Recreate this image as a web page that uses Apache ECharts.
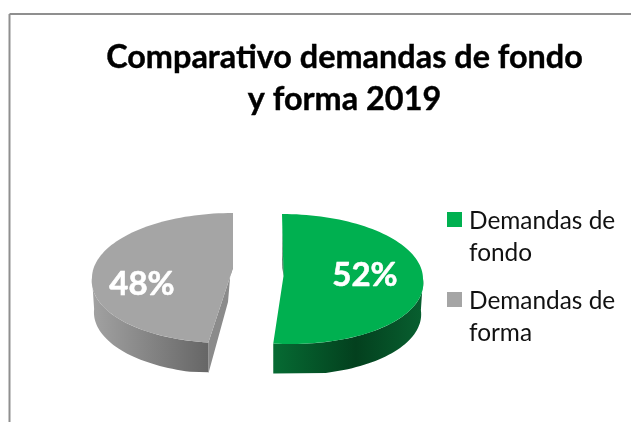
<!DOCTYPE html>
<html><head><meta charset="utf-8">
<style>html,body{margin:0;padding:0;background:#fff}#c{width:631px;height:422px}</style>
<script src="https://cdn.jsdelivr.net/npm/echarts@6/dist/echarts.min.js"></script>
</head><body><div id="c"></div>
<script>
const titleLines = ['Comparativo demandas de fondo', 'y forma 2019'];
const categories = ['Demandas de\nfondo', 'Demandas de\nforma'];
const values = [52, 48];
const colors = ['#00B050', '#A5A5A5'];

const total = values.reduce((a, b) => a + b, 0);
const views = [
  {cx: 282, cy: 279, ax: 283.5, ay: 276, skew: 9, labelX: 365, labelY: 275,
   wall: [[0, '#066b33'], [0.55, '#03401e'], [1, '#086030']], cut: '#02401d', sliver: -1.8},
  {cx: 233, cy: 278, ax: 233, ay: 268, skew: -7, labelX: 142, labelY: 284,
   wall: [[0, '#a2a2a2'], [1, '#666666']], cut: '#8b8b8b', sliver: 0}
];
const RX = 141, RY = 65, DEPTH = 31, BOTTOM_SCALE = 0.985;

function rim(v, deg, scale, dy) {
  const t = deg * Math.PI / 180;
  const ex = Math.sin(t) * RX * scale, ey = -Math.cos(t) * RY;
  return [v.cx + ex + (ey > 0 ? v.skew * ey / RY : 0), v.cy + ey + dy];
}
function arc(v, from, to, scale, dy) {
  const pts = [], n = Math.max(2, Math.ceil(Math.abs(to - from) / 2));
  for (let i = 0; i <= n; i++) pts.push(rim(v, from + (to - from) * i / n, scale, dy));
  return pts;
}
function sliceRender(index) {
  return function (params, api) {
    const v = views[index];
    const val = api.value(0);
    let before = 0;
    for (let i = 0; i < index; i++) before += values[i];
    const a0 = before / total * 360, a1 = a0 + val / total * 360;
    const vis0 = Math.max(a0, 90), vis1 = Math.min(a1, 270);
    const children = [];
    if (v.sliver === 0) {
      const low = rim(v, a0, 1, 0);
      const top = rim(v, a1, 1, 0);
      children.push({type: 'polygon', shape: {points: [top, [v.ax, v.ay], low,
        [low[0], low[1] + DEPTH], [v.ax - 5, v.ay + DEPTH + 3], [top[0] , top[1] + 30]]},
        style: {fill: v.cut}});
    }
    const wallPts = arc(v, vis0, vis1, 1, 0).concat(arc(v, vis1, vis0, BOTTOM_SCALE, DEPTH));
    const edgeA = v.sliver === 0 ? a0 : a1;
    const edge = rim(v, edgeA, 1, 0);
    wallPts.forEach(p => { if (Math.abs(p[1] - (edge[1] + DEPTH)) < 1.5) p[0] = edge[0]; });
    children.push({type: 'polygon', shape: {points: wallPts}, style: {
      fill: new echarts.graphic.LinearGradient(0, 0, 1, 0,
        v.wall.map(s => ({offset: s[0], color: s[1]})))}});
    const top = [[v.ax, v.ay]].concat(arc(v, a0, a1, 1, 0));
    children.push({type: 'polygon', shape: {points: top}, style: {fill: api.visual('color')}});
    if (v.sliver !== 0) {
      const s = rim(v, a0, 1, 0);
      children.push({type: 'polygon', shape: {points: [[s[0], s[1] + 12], [v.ax, v.ay], [v.ax + v.sliver + 0.8, v.ay - 8]]},
        style: {fill: v.cut}});
    }
    children.push({type: 'text', x: v.labelX, y: v.labelY, style: {
      text: val + '%', fill: '#fff', stroke: '#fff', lineWidth: 0.6, font: 'bold 33px Lato', align: 'center', verticalAlign: 'middle'}});
    return {type: 'group', children};
  };
}

const chart = echarts.init(document.getElementById('c'), null, {renderer: 'canvas'});
chart.setOption({
  animation: false,
  backgroundColor: '#fff',
  title: {
    text: titleLines.join('\n'), left: 339.5, top: 32, textAlign: 'center',
    textStyle: {fontFamily: 'Lato', fontWeight: 'bold', fontSize: 32.4, lineHeight: 42, color: '#000',
      textBorderColor: '#000', textBorderWidth: 0.4}
  },
  legend: {
    orient: 'vertical', left: 447, top: 205.5, padding: 0, itemWidth: 15, itemHeight: 51, itemGap: 16,
    selectedMode: false, align: 'left',
    icon: 'path://M0 0H15V15H0Z M0 51L0 51Z',
    textStyle: {fontFamily: 'Lato', fontSize: 24.4, lineHeight: 32, color: '#111', padding: [0, 0, 0, 2]},
    data: categories
  },
  series: categories.map((name, i) => ({
    type: 'custom', name, coordinateSystem: 'none', itemStyle: {color: colors[i]},
    renderItem: sliceRender(i), data: [[values[i]]]
  })),
  graphic: [
    {type: 'line', shape: {x1: 9.5, y1: 14, x2: 631, y2: 14}, style: {stroke: '#8f8f8f', lineWidth: 2}},
    {type: 'line', shape: {x1: 9.5, y1: 14, x2: 9.5, y2: 422}, style: {stroke: '#8f8f8f', lineWidth: 2}}
  ]
});
</script></body></html>
